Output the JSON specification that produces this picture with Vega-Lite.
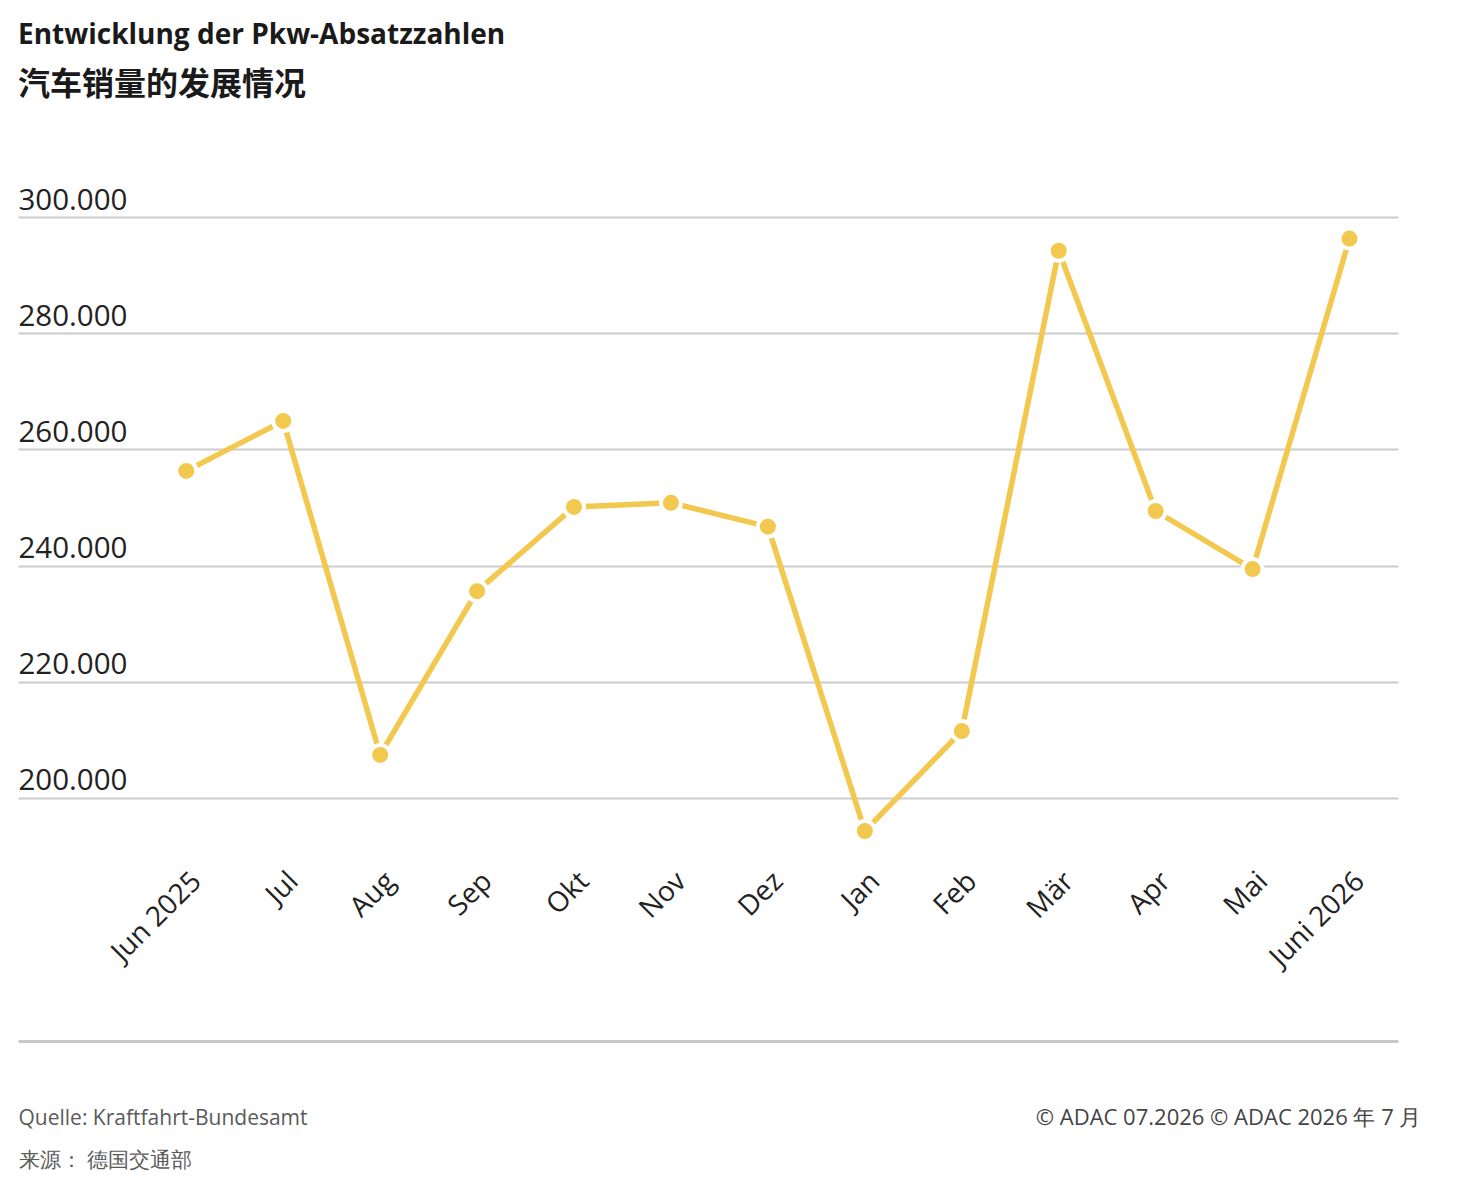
{
  "$schema": "https://vega.github.io/schema/vega-lite/v6.json",
  "width": 1380,
  "height": 697,
  "autosize": "none",
  "padding": {"left": 18, "top": 159, "right": 84, "bottom": 324},
  "background": "white",
  "title": {
    "text": "Entwicklung der Pkw-Absatzzahlen",
    "subtitle": "汽车销量的发展情况",
    "anchor": "start",
    "frame": "group",
    "offset": 58,
    "font": "Open Sans",
    "fontSize": 28,
    "fontWeight": "bold",
    "color": "#1a1a1a",
    "subtitleFont": "Noto Sans CJK SC",
    "subtitleFontSize": 32,
    "subtitleFontWeight": "bold",
    "subtitleColor": "#1a1a1a",
    "subtitlePadding": 20
  },
  "config": {
    "view": {"stroke": null},
    "locale": {
      "number": {"decimal": ",", "thousands": ".", "grouping": [3], "currency": ["", " €"]}
    }
  },
  "data": {
    "values": [
      {"month": "Jun 2025", "sales": 256300},
      {"month": "Jul", "sales": 264900},
      {"month": "Aug", "sales": 207400},
      {"month": "Sep", "sales": 235600},
      {"month": "Okt", "sales": 250100},
      {"month": "Nov", "sales": 250800},
      {"month": "Dez", "sales": 246700},
      {"month": "Jan", "sales": 194300},
      {"month": "Feb", "sales": 211500},
      {"month": "Mär", "sales": 294200},
      {"month": "Apr", "sales": 249400},
      {"month": "Mai", "sales": 239400},
      {"month": "Juni 2026", "sales": 296300}
    ]
  },
  "encoding": {
    "x": {
      "field": "month",
      "type": "ordinal",
      "sort": null,
      "scale": {"type": "band", "paddingInner": 0, "paddingOuter": 0.618, "align": 1},
      "axis": {
        "title": ["Quelle: Kraftfahrt-Bundesamt", "来源： 德国交通部"],
        "titleFont": "Open Sans",
        "titleFontSize": 21,
        "titleFontWeight": "normal",
        "titleColor": "#5a5a5a",
        "titleAnchor": "start",
        "titleAlign": "left",
        "titleBaseline": "alphabetic",
        "titleLineHeight": 42,
        "titleX": 0,
        "titleY": 83,
        "offset": 185,
        "domain": true,
        "domainColor": "#c8c8c8",
        "domainWidth": 3,
        "ticks": false,
        "tickSize": 0,
        "grid": false,
        "labelAngle": -45,
        "labelAlign": "right",
        "labelBaseline": "top",
        "labelPadding": -174,
        "labelOffset": 1,
        "labelOverlap": false,
        "labelFont": "Open Sans",
        "labelFontSize": 28,
        "labelColor": "#222222"
      }
    },
    "y": {
      "field": "sales",
      "type": "quantitative",
      "scale": {"domain": [190000, 310000], "nice": false, "zero": false},
      "axis": {
        "values": [200000, 220000, 240000, 260000, 280000, 300000],
        "format": ",d",
        "domain": false,
        "ticks": false,
        "tickSize": 0,
        "grid": true,
        "gridColor": "#cccccc",
        "gridWidth": 2,
        "labelAlign": "left",
        "labelBaseline": "alphabetic",
        "labelPadding": 0,
        "labelOffset": -8,
        "labelFont": "Open Sans",
        "labelFontSize": 29.5,
        "labelColor": "#222222",
        "title": "© ADAC 07.2026 © ADAC 2026 年 7 月",
        "titleAngle": 0,
        "titleAlign": "right",
        "titleBaseline": "alphabetic",
        "titleX": 1403,
        "titleY": 965,
        "titleFont": "Open Sans",
        "titleFontSize": 22,
        "titleFontWeight": "normal",
        "titleColor": "#444444"
      }
    }
  },
  "layer": [
    {"mark": {"type": "line", "color": "#F3C84E", "strokeWidth": 5.5}},
    {"mark": {"type": "point", "filled": true, "color": "#F3C84E", "size": 400, "stroke": "white", "strokeWidth": 4, "opacity": 1, "strokeOpacity": 1}}
  ]
}
